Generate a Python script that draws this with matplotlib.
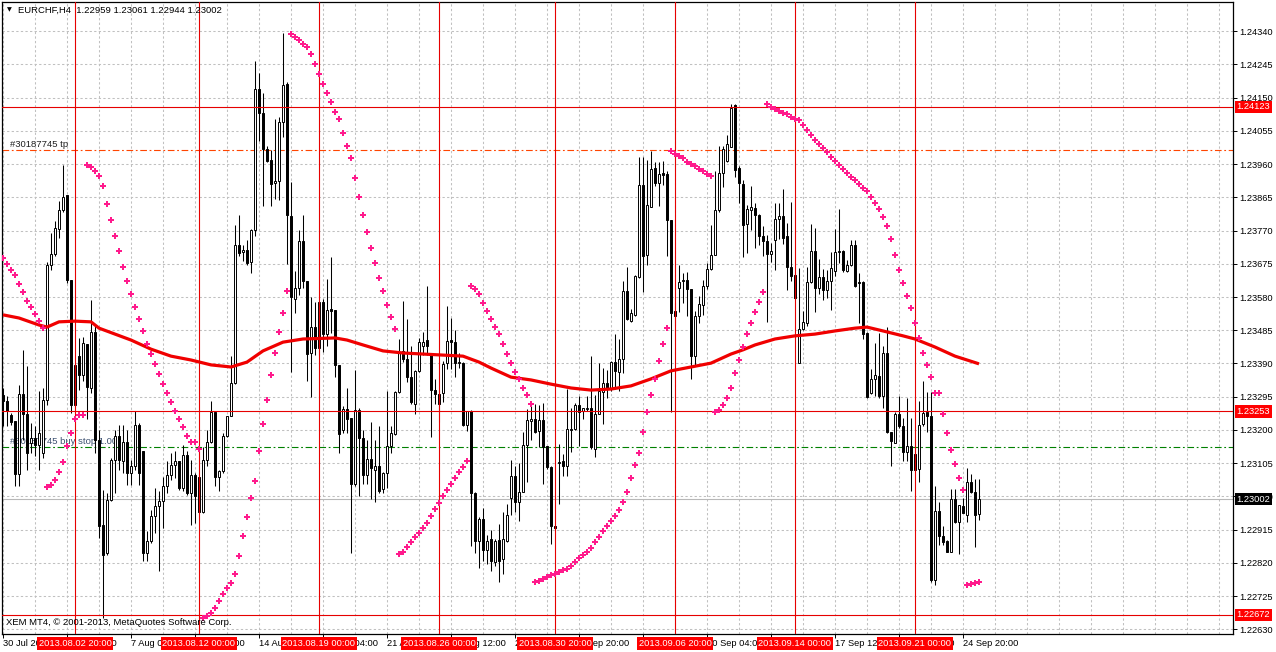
import matplotlib
matplotlib.use('Agg')
import matplotlib.pyplot as plt
from matplotlib.transforms import blended_transform_factory

plt.rcParams['font.family'] = ['Liberation Sans', 'DejaVu Sans']

symbol_title = "EURCHF,H4  1.22959 1.23061 1.22944 1.23002"
copyright_text = "XEM MT4, \u00a9 2001-2013, MetaQuotes Software Corp."

opens = [
    1.23301, 1.23282, 1.23244, 1.23225, 1.23074, 1.23303, 1.23246, 1.23163, 1.23177, 1.23158,
    1.23134, 1.23286, 1.23672, 1.23702, 1.23774, 1.23829, 1.23872, 1.23629, 1.23272, 1.23412,
    1.23358, 1.23446, 1.23320, 1.23479, 1.23172, 1.22929, 1.22848, 1.23001, 1.23115, 1.23182,
    1.23110, 1.23167, 1.23077, 1.23096, 1.23213, 1.23139, 1.22848, 1.22882, 1.22953, 1.22982,
    1.22996, 1.23039, 1.23072, 1.23101, 1.23110, 1.23034, 1.23129, 1.23020, 1.23072, 1.23067,
    1.22967, 1.23115, 1.23167, 1.23250, 1.23067, 1.23082, 1.23182, 1.23239, 1.23334, 1.23729,
    1.23710, 1.23715, 1.23681, 1.23772, 1.24174, 1.24107, 1.24003, 1.23972, 1.23907, 1.23911,
    1.24079, 1.24188, 1.23811, 1.23575, 1.23606, 1.23739, 1.23627, 1.23419, 1.23494, 1.23435,
    1.23567, 1.23473, 1.23546, 1.23544, 1.23385, 1.23201, 1.23261, 1.23234, 1.23045, 1.23258,
    1.23178, 1.23071, 1.23118, 1.23085, 1.23097, 1.23030, 1.23078, 1.23154, 1.23189, 1.23308,
    1.23427, 1.23404, 1.23352, 1.23274, 1.23369, 1.23440, 1.23456, 1.23421, 1.23315, 1.23303,
    1.23305, 1.23390, 1.23458, 1.23452, 1.23390, 1.23390, 1.23213, 1.23255, 1.23019, 1.22884,
    1.22946, 1.22858, 1.22889, 1.22824, 1.22887, 1.22830, 1.22884, 1.23005, 1.23069, 1.22995,
    1.23024, 1.23156, 1.23226, 1.23230, 1.23197, 1.23228, 1.23153, 1.23093, 1.22925, 1.23107,
    1.23112, 1.23098, 1.23200, 1.23202, 1.23271, 1.23255, 1.23259, 1.23264, 1.23145, 1.23245,
    1.23308, 1.23333, 1.23316, 1.23394, 1.23365, 1.23402, 1.23596, 1.23511, 1.23530, 1.23637,
    1.23900, 1.23699, 1.23838, 1.23950, 1.23905, 1.23934, 1.23932, 1.23801, 1.23540, 1.23606,
    1.23626, 1.23630, 1.23603, 1.23411, 1.23527, 1.23558, 1.23612, 1.23661, 1.23701, 1.23829,
    1.23934, 1.23970, 1.24010, 1.24128, 1.23948, 1.23903, 1.23788, 1.23829, 1.23834, 1.23815,
    1.23753, 1.23739, 1.23703, 1.23742, 1.23802, 1.23812, 1.23755, 1.23667, 1.23644, 1.23392,
    1.23489, 1.23506, 1.23623, 1.23711, 1.23606, 1.23637, 1.23601, 1.23627, 1.23653, 1.23708,
    1.23712, 1.23653, 1.23672, 1.23729, 1.23623, 1.23623, 1.23478, 1.23305, 1.23346, 1.23354,
    1.23297, 1.23421, 1.23193, 1.23164, 1.23245, 1.23210, 1.23138, 1.23153, 1.23131, 1.23088,
    1.23216, 1.23251, 1.23240, 1.22770, 1.22969, 1.22898, 1.22884, 1.22852, 1.23003, 1.22936,
    1.22983, 1.22957, 1.23052, 1.23023, 1.22959,
]

highs = [
    1.23320, 1.23296, 1.23248, 1.23225, 1.23329, 1.23429, 1.23382, 1.23220, 1.23210, 1.23310,
    1.23320, 1.23681, 1.23762, 1.23796, 1.23853, 1.23958, 1.23872, 1.23629, 1.23386, 1.23462,
    1.23467, 1.23446, 1.23572, 1.23496, 1.23201, 1.23029, 1.23020, 1.23120, 1.23201, 1.23215,
    1.23215, 1.23201, 1.23115, 1.23253, 1.23220, 1.23139, 1.22910, 1.22972, 1.23034, 1.23025,
    1.23067, 1.23110, 1.23134, 1.23139, 1.23110, 1.23158, 1.23139, 1.23115, 1.23077, 1.23067,
    1.23150, 1.23201, 1.23282, 1.23250, 1.23086, 1.23191, 1.23241, 1.23410, 1.23786, 1.23815,
    1.23729, 1.23743, 1.23774, 1.24253, 1.24219, 1.24162, 1.24011, 1.24001, 1.24089, 1.24094,
    1.24333, 1.24195, 1.23908, 1.23653, 1.23772, 1.23814, 1.23627, 1.23580, 1.23565, 1.23570,
    1.23575, 1.23632, 1.23695, 1.23544, 1.23385, 1.23268, 1.23320, 1.23234, 1.23372, 1.23263,
    1.23201, 1.23170, 1.23222, 1.23172, 1.23211, 1.23081, 1.23310, 1.23211, 1.23310, 1.23461,
    1.23570, 1.23518, 1.23440, 1.23372, 1.23463, 1.23481, 1.23611, 1.23421, 1.23346, 1.23315,
    1.23398, 1.23554, 1.23520, 1.23487, 1.23419, 1.23393, 1.23255, 1.23258, 1.23024, 1.22951,
    1.22977, 1.22900, 1.22915, 1.22889, 1.22931, 1.22965, 1.22988, 1.23115, 1.23098, 1.23107,
    1.23193, 1.23259, 1.23270, 1.23273, 1.23270, 1.23278, 1.23155, 1.23096, 1.22927, 1.23159,
    1.23131, 1.23316, 1.23264, 1.23278, 1.23297, 1.23264, 1.23297, 1.23411, 1.23299, 1.23390,
    1.23378, 1.23370, 1.23397, 1.23473, 1.23459, 1.23625, 1.23667, 1.23546, 1.23644, 1.23981,
    1.23981, 1.23971, 1.23997, 1.23967, 1.23967, 1.23970, 1.23941, 1.23801, 1.23563, 1.23672,
    1.23649, 1.23651, 1.23603, 1.23540, 1.23582, 1.23630, 1.23677, 1.23786, 1.23940, 1.24011,
    1.24011, 1.24043, 1.24131, 1.24131, 1.23953, 1.23913, 1.23843, 1.23896, 1.23848, 1.23818,
    1.23782, 1.23758, 1.23734, 1.23848, 1.23850, 1.23889, 1.23791, 1.23851, 1.23648, 1.23663,
    1.23541, 1.23667, 1.23788, 1.23777, 1.23689, 1.23661, 1.23658, 1.23710, 1.23774, 1.23832,
    1.23715, 1.23686, 1.23744, 1.23744, 1.23649, 1.23625, 1.23480, 1.23373, 1.23449, 1.23478,
    1.23440, 1.23495, 1.23195, 1.23251, 1.23297, 1.23235, 1.23292, 1.23235, 1.23173, 1.23283,
    1.23340, 1.23308, 1.23308, 1.23040, 1.22993, 1.22926, 1.22886, 1.23031, 1.23031, 1.22987,
    1.23007, 1.23090, 1.23074, 1.23059, 1.23061,
]

lows = [
    1.23210, 1.23210, 1.23215, 1.23039, 1.23039, 1.23172, 1.23086, 1.23134, 1.23125, 1.23086,
    1.23120, 1.23272, 1.23658, 1.23696, 1.23748, 1.23824, 1.23620, 1.23248, 1.23267, 1.23315,
    1.23339, 1.23230, 1.23305, 1.23134, 1.22891, 1.22663, 1.22844, 1.22996, 1.23020, 1.23086,
    1.23077, 1.23044, 1.23044, 1.23086, 1.23044, 1.22825, 1.22825, 1.22877, 1.22906, 1.22796,
    1.22920, 1.23020, 1.23058, 1.23063, 1.23029, 1.23025, 1.23015, 1.22929, 1.22934, 1.22963,
    1.22963, 1.23096, 1.23163, 1.23039, 1.23025, 1.23077, 1.23179, 1.23239, 1.23332, 1.23696,
    1.23682, 1.23672, 1.23650, 1.23754, 1.24027, 1.23840, 1.23965, 1.23840, 1.23859, 1.23856,
    1.24037, 1.23674, 1.23367, 1.23533, 1.23585, 1.23606, 1.23341, 1.23294, 1.23414, 1.23414,
    1.23424, 1.23440, 1.23476, 1.23352, 1.23133, 1.23191, 1.23191, 1.22848, 1.23040, 1.23012,
    1.23045, 1.23045, 1.23004, 1.22993, 1.23019, 1.23019, 1.23033, 1.23133, 1.23185, 1.23305,
    1.23393, 1.23336, 1.23274, 1.23245, 1.23366, 1.23414, 1.23414, 1.23180, 1.23274, 1.23222,
    1.23279, 1.23373, 1.23373, 1.23352, 1.23377, 1.23211, 1.23196, 1.22868, 1.22848, 1.22806,
    1.22827, 1.22817, 1.22796, 1.22811, 1.22765, 1.22789, 1.22879, 1.22957, 1.22965, 1.22941,
    1.23022, 1.23052, 1.23172, 1.23190, 1.23150, 1.23045, 1.23088, 1.22874, 1.22910, 1.22988,
    1.23069, 1.23069, 1.23136, 1.23200, 1.23155, 1.23231, 1.23254, 1.23145, 1.23124, 1.23245,
    1.23216, 1.23292, 1.23311, 1.23316, 1.23311, 1.23364, 1.23514, 1.23508, 1.23527, 1.23634,
    1.23593, 1.23672, 1.23836, 1.23896, 1.23840, 1.23900, 1.23696, 1.23250, 1.23500, 1.23536,
    1.23563, 1.23525, 1.23345, 1.23387, 1.23506, 1.23530, 1.23603, 1.23658, 1.23699, 1.23824,
    1.23894, 1.23967, 1.24008, 1.23924, 1.23848, 1.23694, 1.23706, 1.23772, 1.23720, 1.23729,
    1.23696, 1.23508, 1.23679, 1.23658, 1.23745, 1.23732, 1.23599, 1.23625, 1.23573, 1.23390,
    1.23487, 1.23497, 1.23620, 1.23536, 1.23590, 1.23571, 1.23577, 1.23544, 1.23639, 1.23677,
    1.23651, 1.23651, 1.23670, 1.23610, 1.23506, 1.23459, 1.23292, 1.23302, 1.23297, 1.23292,
    1.23264, 1.23191, 1.23098, 1.23162, 1.23207, 1.23112, 1.23112, 1.23026, 1.23083, 1.23050,
    1.23212, 1.23193, 1.22767, 1.22756, 1.22870, 1.22872, 1.22850, 1.22850, 1.22934, 1.22846,
    1.22962, 1.22936, 1.23021, 1.22865, 1.22944,
]

closes = [
    1.23282, 1.23253, 1.23222, 1.23074, 1.23303, 1.23246, 1.23134, 1.23177, 1.23158, 1.23191,
    1.23286, 1.23672, 1.23702, 1.23777, 1.23829, 1.23865, 1.23629, 1.23272, 1.23386, 1.23358,
    1.23448, 1.23324, 1.23479, 1.23172, 1.22925, 1.22844, 1.23001, 1.23115, 1.23182, 1.23115,
    1.23167, 1.23077, 1.23096, 1.23213, 1.23077, 1.22848, 1.22882, 1.22953, 1.22982, 1.22996,
    1.23041, 1.23072, 1.23101, 1.23110, 1.23034, 1.23129, 1.23020, 1.23072, 1.23010, 1.22967,
    1.23115, 1.23167, 1.23250, 1.23067, 1.23082, 1.23182, 1.23241, 1.23334, 1.23729, 1.23705,
    1.23715, 1.23677, 1.23772, 1.24174, 1.24107, 1.24003, 1.23968, 1.23904, 1.23911, 1.24079,
    1.24185, 1.23814, 1.23580, 1.23606, 1.23739, 1.23627, 1.23417, 1.23494, 1.23435, 1.23565,
    1.23473, 1.23544, 1.23539, 1.23385, 1.23188, 1.23261, 1.23232, 1.23045, 1.23258, 1.23178,
    1.23071, 1.23118, 1.23090, 1.23097, 1.23027, 1.23076, 1.23154, 1.23191, 1.23308, 1.23424,
    1.23404, 1.23352, 1.23279, 1.23369, 1.23450, 1.23452, 1.23440, 1.23315, 1.23303, 1.23274,
    1.23388, 1.23455, 1.23452, 1.23390, 1.23393, 1.23213, 1.23255, 1.23019, 1.22884, 1.22946,
    1.22858, 1.22884, 1.22827, 1.22884, 1.22827, 1.22889, 1.22957, 1.23069, 1.22993, 1.23024,
    1.23156, 1.23228, 1.23232, 1.23195, 1.23228, 1.23150, 1.23093, 1.22925, 1.22919, 1.23109,
    1.23098, 1.23204, 1.23204, 1.23271, 1.23251, 1.23264, 1.23264, 1.23150, 1.23245, 1.23311,
    1.23333, 1.23316, 1.23394, 1.23368, 1.23402, 1.23596, 1.23516, 1.23533, 1.23639, 1.23900,
    1.23696, 1.23843, 1.23946, 1.23907, 1.23932, 1.23929, 1.23801, 1.23533, 1.23527, 1.23623,
    1.23630, 1.23603, 1.23411, 1.23527, 1.23560, 1.23612, 1.23661, 1.23701, 1.23829, 1.23934,
    1.24002, 1.24016, 1.24119, 1.23943, 1.23905, 1.23786, 1.23831, 1.23836, 1.23813, 1.23753,
    1.23739, 1.23703, 1.23712, 1.23802, 1.23812, 1.23750, 1.23667, 1.23639, 1.23577, 1.23489,
    1.23509, 1.23623, 1.23711, 1.23606, 1.23637, 1.23601, 1.23627, 1.23663, 1.23708, 1.23712,
    1.23656, 1.23672, 1.23729, 1.23612, 1.23620, 1.23473, 1.23295, 1.23346, 1.23356, 1.23297,
    1.23419, 1.23193, 1.23169, 1.23245, 1.23210, 1.23138, 1.23153, 1.23085, 1.23086, 1.23213,
    1.23248, 1.23240, 1.22770, 1.22969, 1.22898, 1.22879, 1.22852, 1.23003, 1.22936, 1.22985,
    1.22964, 1.23052, 1.23023, 1.22957, 1.23002,
]

sar = [
    1.23692, 1.23675, 1.23657, 1.23643, 1.23617, 1.23594, 1.23569, 1.23552, 1.23532, 1.23512, 1.23492,
    1.23036, 1.23043, 1.23058, 1.23080, 1.23108, 1.23153, 1.23191, 1.23232, 1.23242, 1.23242,
    1.23957, 1.23951, 1.23941, 1.23926, 1.23897, 1.23845, 1.23800, 1.23753, 1.23712, 1.23667,
    1.23627, 1.23588, 1.23551, 1.23516, 1.23482, 1.23446, 1.23416, 1.23388, 1.23359, 1.23331,
    1.23305, 1.23279, 1.23255, 1.23231, 1.23208, 1.23184, 1.23165, 1.23165, 1.23145,
    1.22663, 1.22669, 1.22677, 1.22691, 1.22712, 1.22731, 1.22748, 1.22762, 1.22789, 1.22840,
    1.22898, 1.22951,
    1.23006, 1.23055, 1.23139, 1.23217, 1.23287, 1.23357, 1.23419, 1.23479, 1.23533, 1.23596,
    1.24331, 1.24323, 1.24315, 1.24302, 1.24294, 1.24274, 1.24245, 1.24217, 1.24188, 1.24162,
    1.24136, 1.24110, 1.24088, 1.24048, 1.24011, 1.23977, 1.23920, 1.23866, 1.23814, 1.23765,
    1.23720, 1.23677, 1.23634, 1.23598, 1.23557, 1.23523, 1.23489,
    1.22846, 1.22851, 1.22865, 1.22879, 1.22894, 1.22907, 1.22920, 1.22934, 1.22955, 1.22974,
    1.22991, 1.23012, 1.23028, 1.23045, 1.23063, 1.23079, 1.23095, 1.23111,
    1.23611, 1.23603, 1.23588, 1.23562, 1.23541, 1.23517, 1.23495, 1.23475, 1.23446, 1.23418,
    1.23392, 1.23365, 1.23345, 1.23321, 1.23299, 1.23275,
    1.22765, 1.22769, 1.22774, 1.22780, 1.22786, 1.22789, 1.22793, 1.22800, 1.22803, 1.22812,
    1.22824, 1.22833, 1.22843, 1.22852, 1.22862, 1.22879, 1.22895, 1.22910, 1.22925, 1.22939,
    1.22953, 1.22972, 1.22993, 1.23024, 1.23064, 1.23099, 1.23133, 1.23193, 1.23250, 1.23299,
    1.23347, 1.23397, 1.23447, 1.23492,
    1.23997, 1.23990, 1.23984, 1.23978, 1.23967, 1.23960, 1.23953, 1.23946, 1.23940, 1.23932,
    1.23926,
    1.23250, 1.23256, 1.23270, 1.23292, 1.23321, 1.23364, 1.23401, 1.23438, 1.23473, 1.23506,
    1.23537, 1.23566, 1.23594,
    1.24131, 1.24124, 1.24117, 1.24111, 1.24106, 1.24102, 1.24095, 1.24088, 1.24086, 1.24071,
    1.24057, 1.24043, 1.24030, 1.24017, 1.24005, 1.23993, 1.23979, 1.23969, 1.23957, 1.23946,
    1.23934, 1.23924, 1.23915, 1.23902, 1.23891, 1.23883, 1.23865, 1.23848, 1.23832, 1.23808,
    1.23783, 1.23746, 1.23701, 1.23658, 1.23620, 1.23584, 1.23549, 1.23506, 1.23463, 1.23421,
    1.23387, 1.23352, 1.23307, 1.23305, 1.23245, 1.23191, 1.23142, 1.23102, 1.23062, 1.23028,
    1.22757, 1.22760, 1.22763, 1.22767,
]

ma_bars = [0, 4, 9, 11, 14, 18, 22, 24, 28, 32, 37, 42, 47, 52, 57, 61, 65, 70, 75, 83,
           86, 90, 95, 100, 105, 110, 115, 119, 122, 127, 132, 137, 142, 147, 152, 157,
           162, 167, 172, 177, 182, 185, 188, 193, 198, 203, 208, 213, 216, 220, 225,
           228, 233, 238, 244]
ma_values = [1.23529, 1.23520, 1.23500, 1.23494, 1.23509, 1.23511, 1.23509, 1.23491,
             1.23474, 1.23457, 1.23431, 1.23411, 1.23400, 1.23386, 1.23380, 1.23394,
             1.23426, 1.23451, 1.23460, 1.23463, 1.23457, 1.23443, 1.23426, 1.23420,
             1.23417, 1.23414, 1.23411, 1.23394, 1.23377, 1.23351, 1.23343, 1.23331,
             1.23320, 1.23314, 1.23317, 1.23326, 1.23346, 1.23369, 1.23380, 1.23391,
             1.23417, 1.23429, 1.23443, 1.23460, 1.23469, 1.23474, 1.23483, 1.23491,
             1.23494, 1.23483, 1.23469, 1.23460, 1.23437, 1.23411, 1.23389]

price_ticks = [1.22630, 1.22725, 1.22820, 1.22915, 1.23010, 1.23105, 1.23200, 1.23295,
               1.23390, 1.23485, 1.23580, 1.23675, 1.23770, 1.23865, 1.23960, 1.24055,
               1.24150, 1.24245, 1.24340]

time_tick_bars = [0, 16, 32, 48, 64, 80, 96, 112, 128, 144, 160, 176, 192, 208, 224, 240]
time_tick_labels = ["30 Jul 2013", "2 Aug 12:00", "7 Aug 04:00", "9 Aug 20:00",
                    "14 Aug 12:00", "19 Aug 04:00", "21 Aug 20:00", "26 Aug 12:00",
                    "29 Aug 04:00", "2 Sep 20:00", "5 Sep 12:00", "10 Sep 04:00",
                    "12 Sep 20:00", "17 Sep 12:00", "20 Sep 04:00", "24 Sep 20:00"]

vline_bars = [18, 49, 79, 109, 138, 168, 198, 228]
vline_labels = ["2013.08.02 20:00", "2013.08.12 00:00", "2013.08.19 00:00",
                "2013.08.26 00:00", "2013.08.30 20:00", "2013.09.06 20:00",
                "2013.09.14 00:00", "2013.09.21 00:00"]

red_hlines = [1.24123, 1.23253, 1.22672]
current_price = 1.23002
tp_level = 1.24000
tp_label = "#30187745 tp"
buystop_level = 1.23150
buystop_label = "#30187745 buy stop 1.00"

n = len(closes)
assert len(opens) == n and len(highs) == n and len(lows) == n and len(sar) == n, \
    (len(opens), len(highs), len(lows), len(closes), len(sar))
assert len(ma_bars) == len(ma_values)

W, H = 1276, 652
fig = plt.figure(figsize=(W / 100, H / 100), dpi=100)
fig.patch.set_facecolor('white')
ax = fig.add_axes([2 / W, 18 / H, 1231 / W, 632 / H])
ax.set_facecolor('white')
XMIN, XMAX = -0.25, 307.5
YMIN, YMAX = 1.22617, 1.24423
ax.set_xlim(XMIN, XMAX)
ax.set_ylim(YMIN, YMAX)

grid_c = '#c0c0c0'
ax.hlines(price_ticks, XMIN, XMAX, colors=grid_c, linewidth=0.75,
          linestyles=[(0, (2.2, 2.2))], zorder=0.5)
ax.vlines(list(range(0, 308, 8)), YMIN, YMAX, colors=grid_c, linewidth=0.75,
          linestyles=[(0, (2.2, 2.2))], zorder=0.5)

# order lines and labels (behind candles)
dashdot = (0, (6.0, 2.4, 1.6, 2.4))
ax.axhline(tp_level, color='#ff4500', lw=0.8, linestyle=dashdot, zorder=1)
ax.axhline(buystop_level, color='#008000', lw=0.8, linestyle=dashdot, zorder=1)
ax.text(1.75, tp_level + 0.00004, tp_label, fontsize=6.8, color='#202020',
        ha='left', va='bottom', zorder=1)
ax.text(1.75, buystop_level + 0.00004, buystop_label, fontsize=6.8, color='#3c5070',
        ha='left', va='bottom', zorder=1)
ax.axhline(current_price, color='#b8b8b8', lw=0.8, zorder=1.2)

# candles
idx = list(range(n))
ax.vlines(idx, lows, highs, colors='black', linewidth=0.75, zorder=2)
bull_x = [i for i in idx if closes[i] >= opens[i]]
bear_x = [i for i in idx if closes[i] < opens[i]]
ax.bar(bull_x, [closes[i] - opens[i] for i in bull_x], bottom=[opens[i] for i in bull_x],
       width=0.55, color='white', edgecolor='black', linewidth=0.7, zorder=2.2)
ax.bar(bear_x, [opens[i] - closes[i] for i in bear_x], bottom=[closes[i] for i in bear_x],
       width=0.55, color='black', edgecolor='black', linewidth=0.7, zorder=2.2)

# moving average
ax.plot(ma_bars, ma_values, color='#f00000', lw=2.3, zorder=3, solid_capstyle='butt')

# red objects
for lv in red_hlines:
    ax.axhline(lv, color='#e60000', lw=0.8, zorder=3.5)
for b in vline_bars:
    ax.axvline(b, color='#e60000', lw=0.8, zorder=3.5)

# parabolic SAR
ax.plot(idx, sar, linestyle='none', marker='P', markersize=4.2, color='#ff1a8c',
        markeredgewidth=0, zorder=4)

# axes styling
for s in ax.spines.values():
    s.set_color('black')
    s.set_linewidth(0.9)
ax.yaxis.tick_right()
ax.set_yticks(price_ticks)
ax.set_yticklabels([f"{v:.5f}" for v in price_ticks])
ax.tick_params(axis='y', which='both', direction='out', length=2.6, width=0.7,
               pad=2.0, labelsize=6.7, colors='black', left=False)
ax.set_xticks(time_tick_bars)
ax.set_xticklabels(time_tick_labels)
for lab in ax.get_xticklabels():
    lab.set_horizontalalignment('left')
ax.tick_params(axis='x', which='both', direction='out', length=2.6, width=0.7,
               pad=1.2, labelsize=6.7, colors='black', top=False)

# price labels on the right axis
ytrans = blended_transform_factory(ax.transAxes, ax.transData)
for lv in red_hlines:
    ax.text(1.0028, lv, f"{lv:.5f}", transform=ytrans, fontsize=6.7, color='white',
            ha='left', va='center', clip_on=False, zorder=6,
            bbox=dict(boxstyle='square,pad=0.18', fc='#ff0000', ec='none'))
ax.text(1.0028, current_price, f"{current_price:.5f}", transform=ytrans, fontsize=6.7,
        color='white', ha='left', va='center', clip_on=False, zorder=6,
        bbox=dict(boxstyle='square,pad=0.18', fc='black', ec='none'))

# date labels under vertical lines
xtrans = blended_transform_factory(ax.transData, ax.transAxes)
for b, lab in zip(vline_bars, vline_labels):
    ax.text(b, -0.0145, lab, transform=xtrans, fontsize=6.7, color='white',
            ha='center', va='center', clip_on=False, zorder=6,
            bbox=dict(boxstyle='square,pad=0.2', fc='#ff0000', ec='none'))

# header and copyright
ax.text(0.0042, 0.9875, "\u25bc", transform=ax.transAxes, fontsize=4.5,
        family='DejaVu Sans', color='black', ha='left', va='center', zorder=7)
ax.text(0.013, 0.9875, symbol_title, transform=ax.transAxes, fontsize=6.8,
        color='black', ha='left', va='center', zorder=7)
ax.text(0.0035, 0.018, copyright_text, transform=ax.transAxes, fontsize=6.8,
        color='black', ha='left', va='center', zorder=7)

fig.savefig('out.png', dpi=100, facecolor='white')
